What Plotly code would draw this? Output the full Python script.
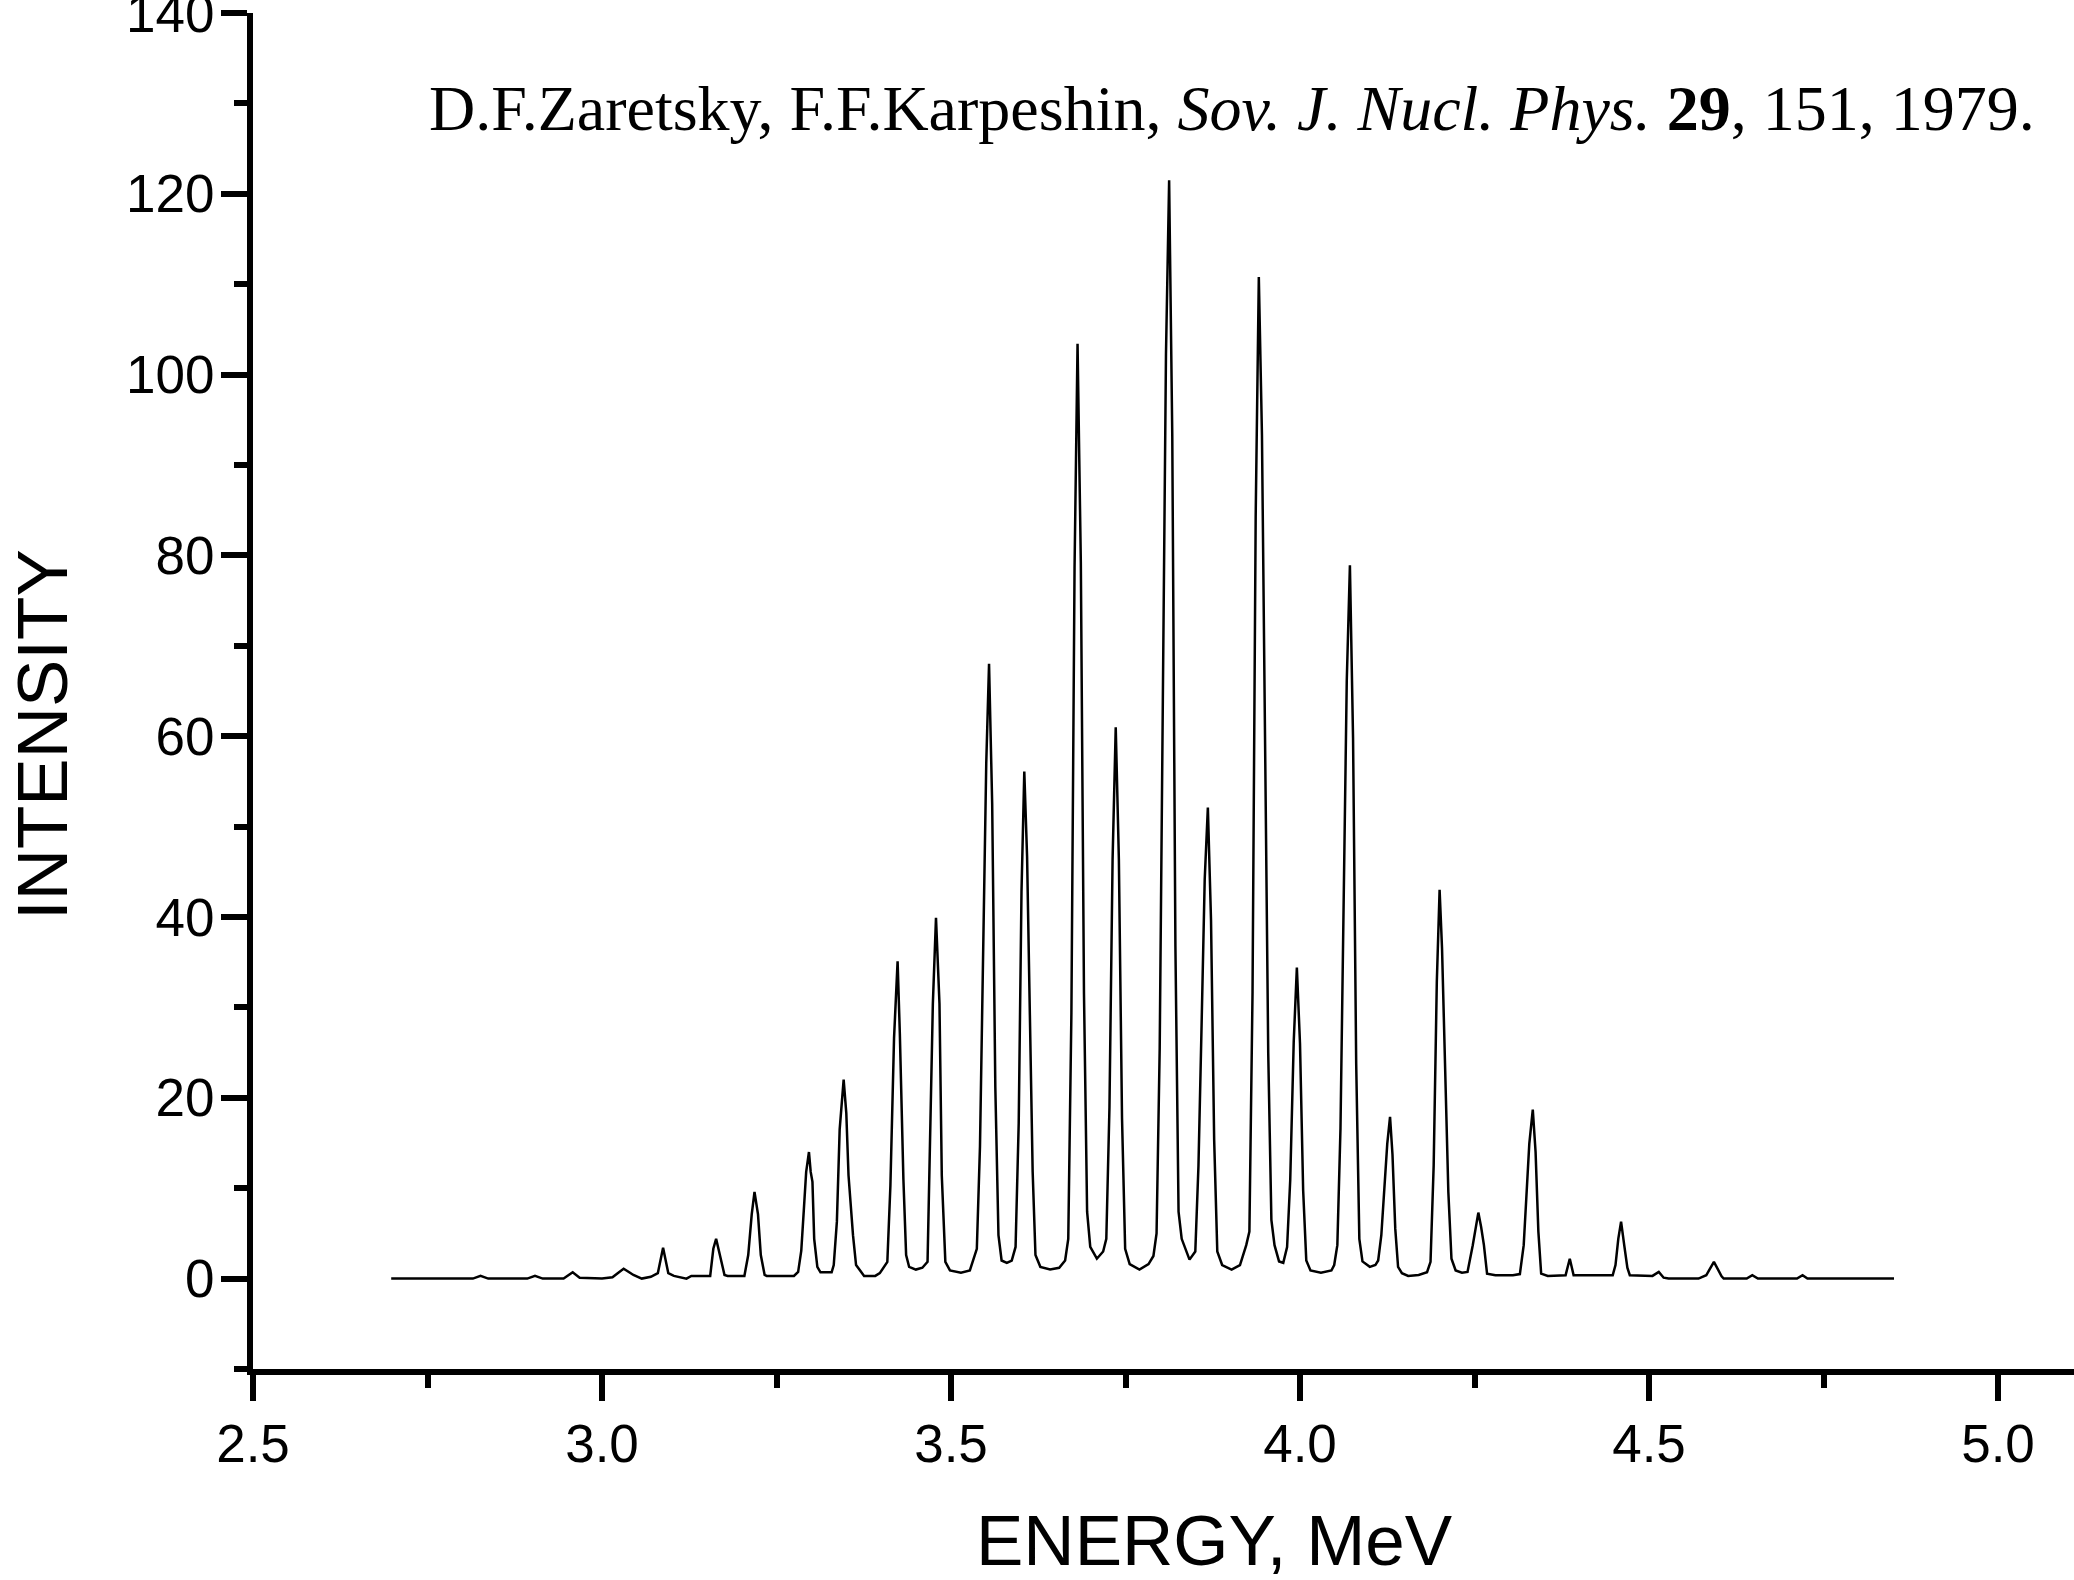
import plotly.graph_objects as go

# Vertices of the computed spectrum (MeV, intensity)
energy_mev = [
    2.698, 2.815, 2.826, 2.837, 2.893, 2.904, 2.915, 2.945, 2.958, 2.968,
    3.000, 3.015, 3.031, 3.045, 3.057, 3.070, 3.080, 3.0875, 3.095, 3.103,
    3.121, 3.128, 3.155, 3.1595, 3.1635, 3.167, 3.1755, 3.180, 3.204, 3.2095,
    3.2145, 3.2185, 3.2235, 3.2275, 3.233, 3.236, 3.275, 3.281, 3.2855, 3.289,
    3.2925, 3.2965, 3.299, 3.3015, 3.304, 3.3085, 3.313, 3.329, 3.332, 3.3365,
    3.3405, 3.3462, 3.350, 3.3532, 3.3596, 3.364, 3.3755, 3.3915, 3.398, 3.4088,
    3.4132, 3.4184, 3.4235, 3.4267, 3.4318, 3.4357, 3.440, 3.4497, 3.459, 3.4664,
    3.4695, 3.474, 3.4785, 3.4835, 3.4868, 3.4919, 3.4985, 3.5143, 3.527, 3.537,
    3.5415, 3.546, 3.5505, 3.5545, 3.559, 3.5635, 3.568, 3.5725, 3.580, 3.587,
    3.5925, 3.597, 3.601, 3.605, 3.609, 3.613, 3.617, 3.621, 3.628, 3.642,
    3.655, 3.6635, 3.668, 3.6725, 3.677, 3.6813, 3.686, 3.6905, 3.695, 3.6995,
    3.709, 3.718, 3.7225, 3.727, 3.7315, 3.736, 3.7405, 3.745, 3.7495, 3.756,
    3.770, 3.783, 3.790, 3.7945, 3.799, 3.8035, 3.808, 3.8125, 3.817, 3.8215,
    3.826, 3.8305, 3.8417, 3.850, 3.8545, 3.859, 3.8635, 3.868, 3.8725, 3.877,
    3.8815, 3.8885, 3.902, 3.914, 3.923, 3.9275, 3.932, 3.9365, 3.941, 3.9455,
    3.950, 3.9545, 3.959, 3.9635, 3.970, 3.976, 3.9815, 3.986, 3.991, 3.9955,
    4.000, 4.0045, 4.009, 4.015, 4.030, 4.045, 4.049, 4.0535, 4.058, 4.0625,
    4.067, 4.0715, 4.076, 4.0805, 4.085, 4.0895, 4.100, 4.108, 4.112, 4.1165,
    4.121, 4.125, 4.129, 4.1325, 4.1365, 4.1405, 4.146, 4.155, 4.170, 4.182,
    4.187, 4.1915, 4.196, 4.200, 4.2035, 4.208, 4.2125, 4.217, 4.223, 4.232,
    4.240, 4.2475, 4.2515, 4.2555, 4.2595, 4.2635, 4.268, 4.280, 4.305, 4.315,
    4.3205, 4.3245, 4.3285, 4.3335, 4.3375, 4.3415, 4.3455, 4.355, 4.3805, 4.3865,
    4.392, 4.448, 4.452, 4.456, 4.460, 4.4645, 4.469, 4.4725, 4.505, 4.514,
    4.521, 4.528, 4.571, 4.582, 4.593, 4.604, 4.607, 4.640, 4.648, 4.656,
    4.712, 4.720, 4.727, 4.851,
]
intensity = [
    0.0, 0.0, 0.3, 0.0, 0.0, 0.3, 0.0, 0.0, 0.7, 0.1,
    0.0, 0.15, 1.1, 0.4, 0.0, 0.2, 0.6, 3.4, 0.6, 0.3,
    0.0, 0.3, 0.3, 3.3, 4.4, 3.3, 0.4, 0.3, 0.3, 2.6,
    7.1, 9.6, 7.1, 2.6, 0.4, 0.3, 0.3, 0.75, 3.1, 7.4,
    11.8, 14.0, 11.8, 10.7, 4.4, 1.3, 0.7, 0.7, 1.5, 6.3,
    16.5, 22.0, 18.3, 11.4, 4.8, 1.5, 0.3, 0.3, 0.6, 1.85,
    10.3, 26.6, 35.1, 27.1, 11.0, 2.6, 1.3, 1.0, 1.2, 1.85,
    12.2, 30.4, 39.9, 30.4, 11.4, 1.85, 0.9, 0.66, 0.9, 3.3,
    14.6, 35.7, 57.0, 68.0, 52.5, 21.2, 4.8, 2.0, 1.75, 2.0,
    3.5, 17.2, 42.8, 56.1, 46.7, 29.2, 11.8, 2.6, 1.3, 1.0,
    1.2, 2.0, 4.4, 29.4, 78.6, 103.4, 79.2, 31.6, 7.4, 3.5,
    2.2, 3.0, 4.4, 18.9, 46.4, 61.0, 46.4, 17.8, 3.3, 1.6,
    1.0, 1.6, 2.5, 5.0, 25.5, 64.0, 102.3, 121.5, 93.3, 36.8,
    7.4, 4.4, 2.1, 3.0, 12.4, 28.0, 44.2, 52.1, 39.7, 15.4,
    3.0, 1.5, 1.0, 1.5, 3.7, 5.2, 31.7, 84.3, 110.8, 93.3,
    59.5, 24.9, 6.5, 3.7, 1.9, 1.75, 3.5, 10.9, 26.2, 34.4,
    26.0, 9.8, 2.0, 0.9, 0.66, 0.9, 1.5, 3.7, 16.6, 41.1,
    66.2, 78.9, 59.8, 23.8, 4.4, 1.9, 1.3, 1.5, 2.0, 4.8,
    9.8, 14.9, 17.9, 13.7, 5.5, 1.3, 0.6, 0.3, 0.4, 0.7,
    1.85, 12.5, 32.8, 43.0, 36.5, 23.1, 9.6, 2.2, 0.9, 0.66,
    0.74, 3.7, 5.7, 7.3, 5.7, 3.7, 0.55, 0.37, 0.37, 0.5,
    3.7, 9.6, 14.9, 18.7, 14.0, 5.2, 0.55, 0.3, 0.37, 2.2,
    0.37, 0.37, 1.5, 4.4, 6.3, 3.7, 1.2, 0.37, 0.3, 0.74,
    0.1, 0.0, 0.0, 0.37, 1.85, 0.26, 0.0, 0.0, 0.37, 0.0,
    0.0, 0.37, 0.0, 0.0,
]

x_ticks = [2.5, 3.0, 3.5, 4.0, 4.5, 5.0]
y_ticks = [0, 20, 40, 60, 80, 100, 120, 140]

citation = ("D.F.Zaretsky, F.F.Karpeshin, <i>Sov. J. Nucl. Phys.</i> "
            "<b>29</b>, 151, 1979.")
x_title = "ENERGY, MeV"
y_title = "INTENSITY"

W, H = 2074, 1580
ML, MR, MT, MB = 253, 0, 13, 211
PW, PH = W - ML - MR, H - MT - MB

def px_x(px):
    return (px - ML) / PW

def px_y(py):
    return (H - MB - py) / PH

fig = go.Figure()
fig.add_trace(go.Scatter(
    x=energy_mev, y=intensity, mode="lines",
    line=dict(color="black", width=2.5),
    hoverinfo="skip", showlegend=False,
))

tickfont = dict(family="Liberation Sans, Arial, sans-serif", size=53, color="black")

fig.update_layout(
    width=W, height=H,
    margin=dict(l=ML, r=MR, t=MT, b=MB, pad=0, autoexpand=False),
    paper_bgcolor="white", plot_bgcolor="white",
    showlegend=False,
    xaxis=dict(
        range=[2.5, 2.5 + PW / 698.0], automargin=False,
        tickmode="array", tickvals=x_ticks,
        ticktext=[f"{v:.1f}" for v in x_ticks],
        showline=True, linecolor="black", linewidth=6,
        ticks="outside", ticklen=26, tickwidth=6, tickcolor="black",
        tickfont=tickfont, ticklabelstandoff=-3, ticklabeloverflow="allow",
        showgrid=False, zeroline=False,
        minor=dict(ticks="outside", ticklen=13, tickwidth=6, tickcolor="black",
                   dtick=0.25, tick0=2.5, showgrid=False),
    ),
    yaxis=dict(
        range=[-10, 140], automargin=False,
        tickmode="array", tickvals=y_ticks,
        ticktext=[str(v) for v in y_ticks],
        showline=True, linecolor="black", linewidth=6,
        ticks="outside", ticklen=26, tickwidth=6, tickcolor="black",
        tickfont=tickfont, ticklabelstandoff=-4, ticklabeloverflow="allow",
        showgrid=False, zeroline=False,
        minor=dict(ticks="outside", ticklen=13, tickwidth=6, tickcolor="black",
                   dtick=10, tick0=0, showgrid=False),
    ),
    annotations=[
        dict(text=citation, xref="paper", yref="paper",
             x=px_x(427), y=px_y(108), xanchor="left", yanchor="middle",
             showarrow=False,
             font=dict(family="Liberation Serif, Times New Roman, serif",
                       size=64, color="black")),
        dict(text=x_title, xref="paper", yref="paper",
             x=px_x(1214), y=px_y(1540), xanchor="center", yanchor="middle",
             showarrow=False,
             font=dict(family="Liberation Sans, Arial, sans-serif", size=71,
                       color="black")),
        dict(text=y_title, xref="paper", yref="paper",
             x=px_x(42), y=px_y(735), xanchor="center", yanchor="middle",
             textangle=-90, showarrow=False,
             font=dict(family="Liberation Sans, Arial, sans-serif", size=71,
                       color="black")),
    ],
)

fig.write_html("out.html", config={"displayModeBar": False},
               post_script="document.body.style.margin='0px';")
